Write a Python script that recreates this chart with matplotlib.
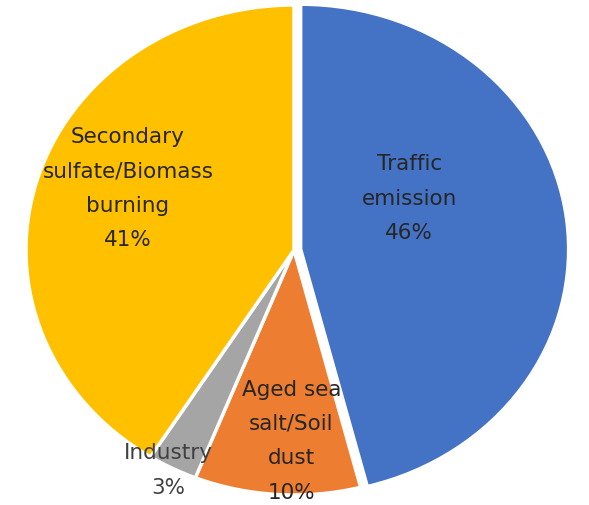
import numpy as np
import matplotlib
matplotlib.use("Agg")
import matplotlib.pyplot as plt

plt.rcParams['font.family'] = ['DejaVu Sans']

# sources and shares (%)
labels = ['Traffic\nemission', 'Aged sea\nsalt/Soil\ndust', 'Industry', 'Secondary\nsulfate/Biomass\nburning']
shares = [46, 10, 3, 41]
colors = ['#4472C4', '#ED7D31', '#A5A5A5', '#FFC000']
explode = [0.025, 0, 0, 0]

# label spots in axes data units (pie radius = 1)
label_x = [0.43, -0.01, -0.47, -0.62]
label_y = [0.21, -0.78, -0.90, 0.25]

fig = plt.figure(figsize=(5.89, 5.05), dpi=100)
# the reference pie is a bit squashed, so the axes are not square
ax = fig.add_axes([26/589, 10/505, 536/589, 490/505])
wedges, _ = ax.pie(shares, colors=colors, startangle=90, counterclock=False,
                   explode=explode,
                   wedgeprops=dict(edgecolor='white', linewidth=2.5))
ax.set_aspect('auto')
ax.set_xlim(-1, 1)
ax.set_ylim(-1, 1)
ax.axis('off')

for i in range(len(shares)):
    txt = labels[i] + '\n' + str(shares[i]) + '%'
    col = '#404040' if i == 2 else '#262626'
    ax.text(label_x[i], label_y[i], txt, ha='center', va='center',
            fontsize=15.5, color=col, linespacing=1.9)

fig.savefig("out.png", dpi=100)
